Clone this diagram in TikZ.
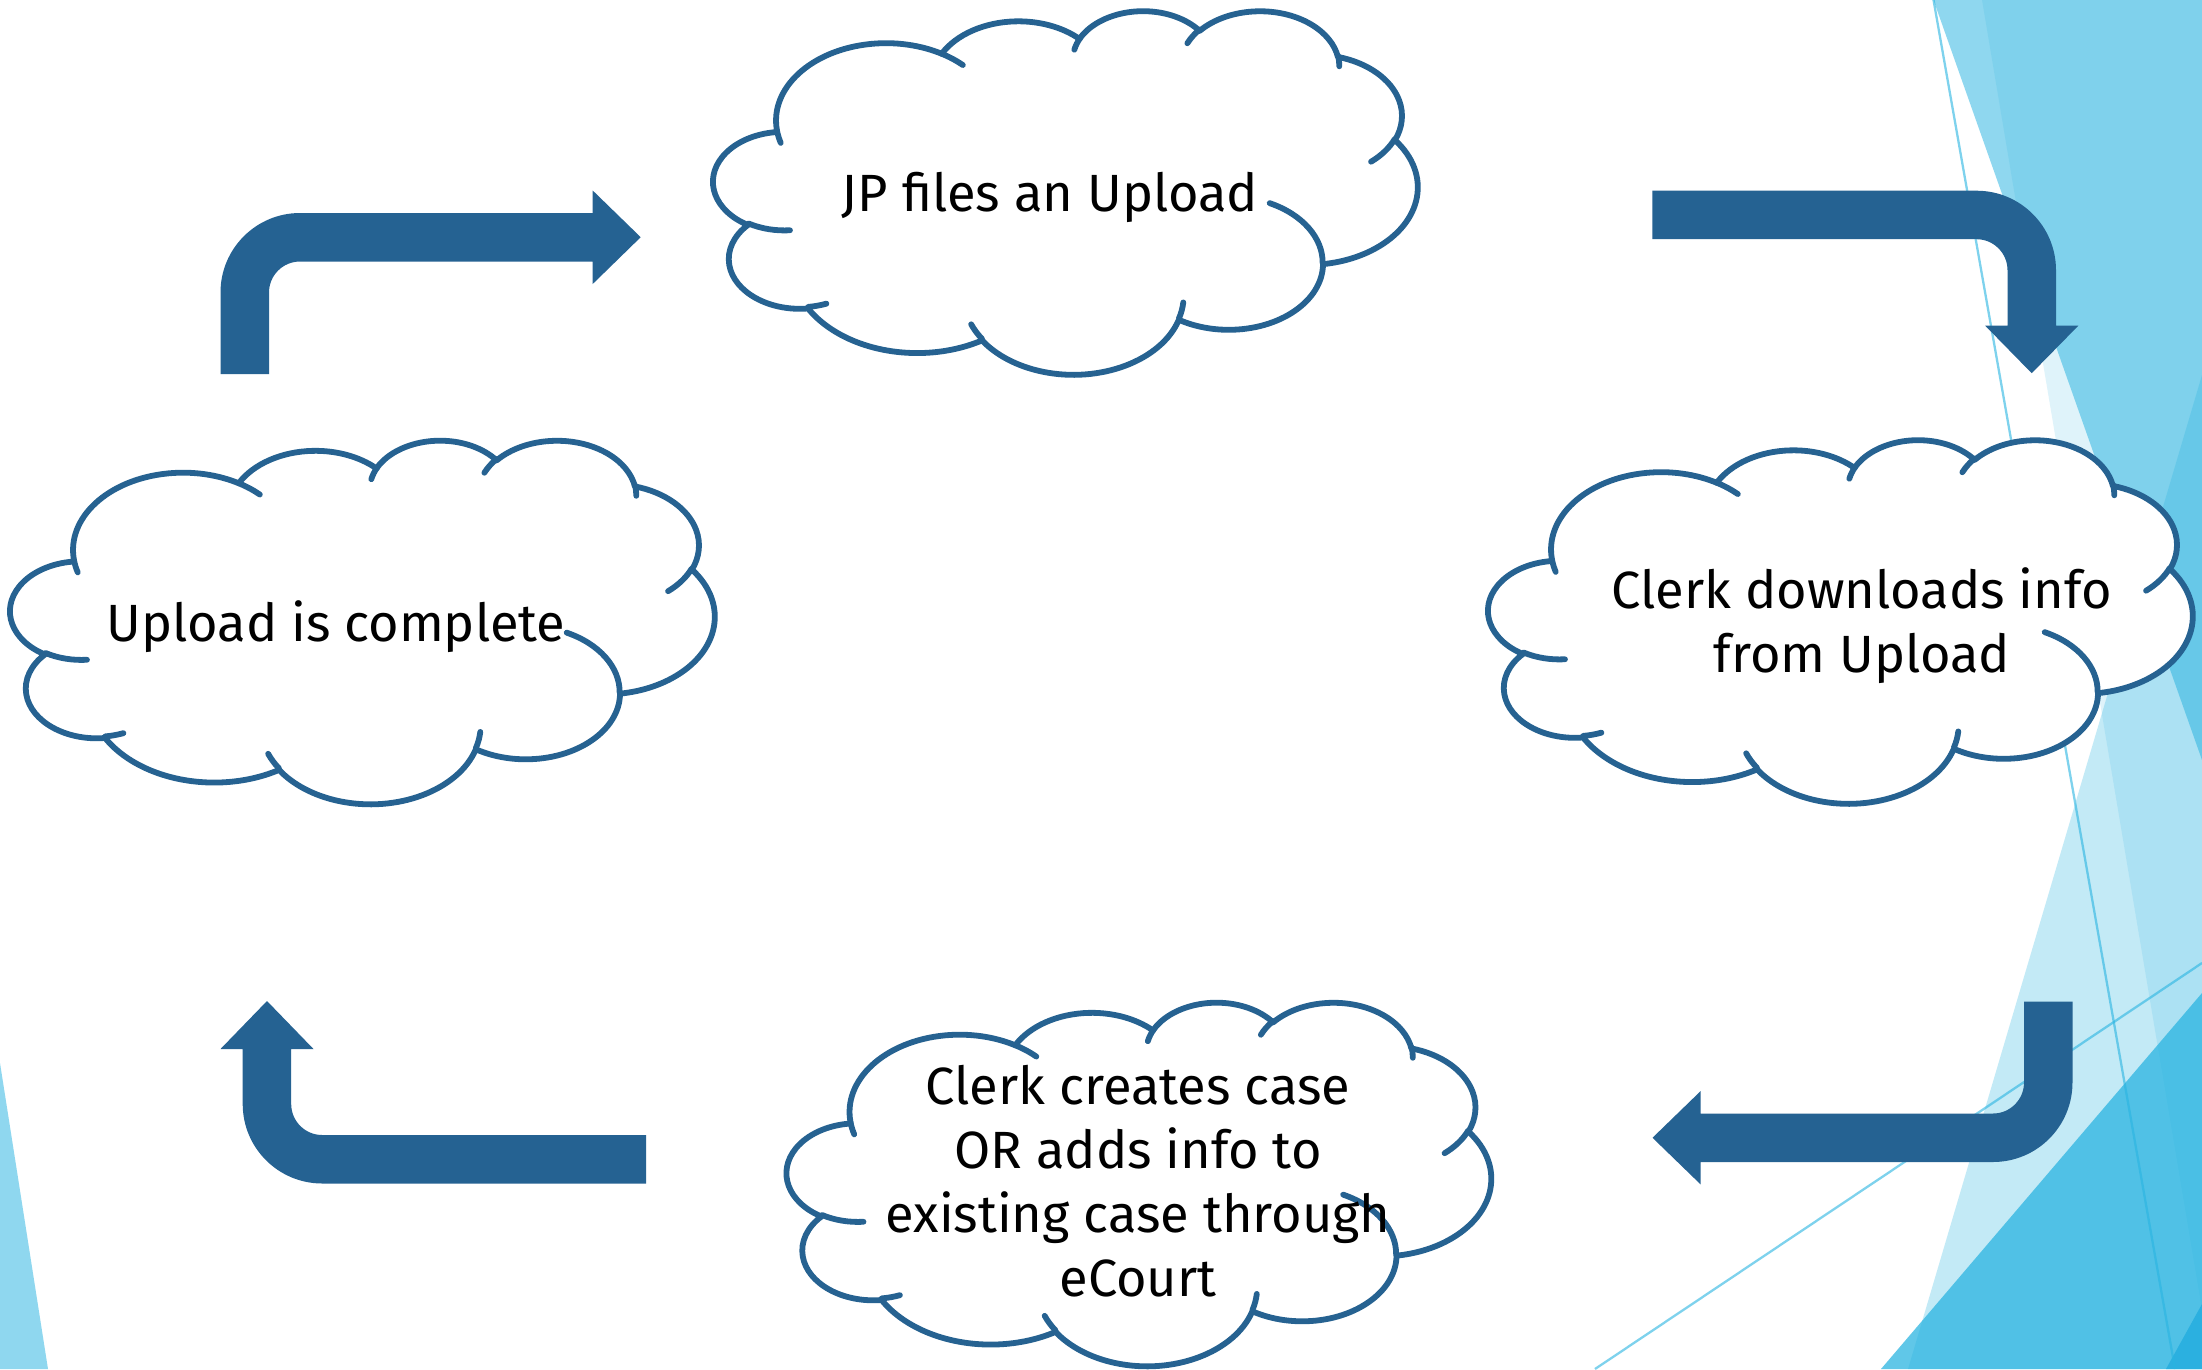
\documentclass[tikz,border=0pt]{standalone}
\usepackage{fontspec}
\setmainfont{Fira Sans}
\definecolor{cloudblue}{RGB}{38,98,145}
\definecolor{arrowblue}{RGB}{37,98,146}
\definecolor{bgblue}{RGB}{41,180,225}
\definecolor{bgdark}{RGB}{43,176,224}
\tikzset{
  cloudline/.style={draw=cloudblue, line width=1.65pt, line join=round, line cap=round},
  bentarrow/.style={fill=arrowblue, draw=none},
  lbl/.style={font=\fontsize{14.9}{18.2}\selectfont, align=center, inner sep=0pt, text=black},
  facet/.style={fill=bgblue, draw=none},
  thinline/.style={draw=bgblue, draw opacity=0.6, line width=0.65pt}
}
% elliptical arc in DrawingML convention: wR, hR, start angle, swing angle (visual degrees)
\newcommand\cldarc[4]{%
  \pgfextra{%
    \pgfmathparse{atan2((#1)*sin(#3),(#2)*cos(#3))}\xdef\cldA{\pgfmathresult}%
    \pgfmathparse{atan2((#1)*sin((#3)+(#4)),(#2)*cos((#3)+(#4)))}\xdef\cldB{\pgfmathresult}%
    \pgfmathparse{mod((\cldB)-(\cldA)+720,360)}\xdef\cldD{\pgfmathresult}%
  }
  arc[start angle=\cldA, delta angle=\cldD, x radius=#1, y radius=#2]}
\newcommand\drawcloud[2]{%
  \begin{scope}[shift={(#1,#2)}, xscale=704/43.2, yscale=363.5/43.2]
    \path[cloudline, fill=white] (3.900,14.370)
      \cldarc{6.753}{9.190}{-190.48748}{123.78053}
      \cldarc{5.333}{7.267}{-144.10238}{89.94523}
      \cldarc{4.365}{5.945}{-145.80792}{99.72302}
      \cldarc{4.857}{6.595}{-130.98607}{117.24173}
      \cldarc{5.333}{7.273}{-78.70888}{109.02692}
      \cldarc{6.775}{9.220}{-46.26725}{130.269}
      \cldarc{5.785}{7.867}{0.62502}{114.03333}
      \cldarc{6.752}{9.215}{22.4516}{115.17255}
      \cldarc{7.720}{10.543}{66.24263}{75.71102}
      \cldarc{4.360}{5.918}{-274.94208}{146.73557}
      \cldarc{4.345}{5.945}{-246.8285}{152.51885}
      -- cycle;
    \path[cloudline]
      (4.693,26.177) \cldarc{4.345}{5.945}{86.742}{26.4295}
      (6.928,34.899) \cldarc{4.360}{5.918}{73.61047}{11.44747}
      (16.478,39.090) \cldarc{6.752}{9.215}{137.62415}{14.0811}
      (28.827,34.751) \cldarc{6.752}{9.215}{6.45327}{15.99835}
      (34.129,22.954) \cldarc{5.785}{7.867}{-70.29235}{70.91737}
      (41.798,15.354) \cldarc{5.333}{7.273}{30.31803}{27.7515}
      (38.324,5.426) \cldarc{4.857}{6.595}{-13.74433}{14.8589}
      (29.078,3.952) \cldarc{4.857}{6.595}{-149.18145}{18.19537}
      (22.141,4.720) \cldarc{4.365}{5.945}{-163.49427}{17.68635}
      (14.000,5.192) \cldarc{6.753}{9.190}{-66.70695}{12.31935}
      (4.127,15.789) \cldarc{6.753}{9.190}{157.65435}{11.85817};
  \end{scope}}
\begin{document}
\begin{tikzpicture}[x=0.01cm, y=-0.01cm]
\useasboundingbox (0,0) rectangle (2202,1369);
\fill[white] (0,0) rectangle (2202,1369);
% background facets
\fill[facet, fill opacity=0.52] (0,1063) -- (48,1369) -- (0,1369) -- cycle;
\fill[facet, fill opacity=0.52] (1933.5,0) -- (2202,0) -- (2202,760) -- cycle;
\fill[facet, fill opacity=0.15] (1982,0) -- (2202,0) -- (2202,1310) -- cycle;
\fill[facet, fill opacity=0.28] (2202,375) -- (1908,1369) -- (2202,1369) -- cycle;
\fill[facet, fill opacity=0.74] (1881,1369) -- (2202,993) -- (2202,1369) -- cycle;
\fill[bgdark] (2166,1369) -- (2202,1304) -- (2202,1369) -- cycle;
\coordinate (la1) at (1933.5,0);
\coordinate (la2) at (2175,1369);
\coordinate (lb1) at (1595,1369);
\coordinate (lb2) at (2202,963);
\draw[thinline] (la1) -- (la2);
\draw[thinline] (lb1) -- (lb2);
% arrows
\fill[bentarrow] (220.5,374) -- (220.5,292.5) arc[start angle=180, delta angle=90, radius=79.5]
  -- (592.7,213) -- (592.7,190.5) -- (640.7,237.2) -- (592.7,284) -- (592.7,261.5) -- (300,261.5)
  arc[start angle=270, delta angle=-90, radius=31] -- (269,374) -- cycle;
\fill[bentarrow] (1652.3,190.7) -- (1976.5,190.7) arc[start angle=270, delta angle=90, radius=79.5]
  -- (2056,325.7) -- (2078.3,325.7) -- (2031.7,373.2) -- (1985.2,325.7) -- (2007.5,325.7) -- (2007.5,270.2)
  arc[start angle=0, delta angle=-90, radius=31] -- (1652.3,239.2) -- cycle;
\fill[bentarrow] (2024,1001.7) -- (2072.5,1001.7) -- (2072.5,1082.5) arc[start angle=0, delta angle=90, radius=79.5]
  -- (1700.5,1162) -- (1700.5,1184.3) -- (1652.5,1137.75) -- (1700.5,1091.2) -- (1700.5,1113.5) -- (1993,1113.5)
  arc[start angle=90, delta angle=-90, radius=31] -- cycle;
\fill[bentarrow] (646,1135) -- (322.2,1135) arc[start angle=90, delta angle=90, radius=31]
  -- (291.2,1049) -- (313.5,1049) -- (267,1001) -- (220.5,1049) -- (242.7,1049) -- (242.7,1104)
  arc[start angle=180, delta angle=-90, radius=79.5] -- (646,1183.5) -- cycle;
% clouds
\drawcloud{713.5}{10}
\drawcloud{10.5}{439.5}
\drawcloud{1488.5}{439}
\drawcloud{787}{1001.5}
% texts (multi-line nodes: base = baseline of last line)
\node[lbl, anchor=base] (c1) at (1050,211) {JP files an Upload};
\node[lbl, anchor=base] (c2) at (336,641) {Upload is complete};
\node[lbl, anchor=base] (c3) at (1862,672) {Clerk downloads info\\from Upload};
\node[lbl, anchor=base] (c4) at (1138,1296) {Clerk creates case\\OR adds info to\\existing case through\\eCourt};
\end{tikzpicture}
\end{document}
